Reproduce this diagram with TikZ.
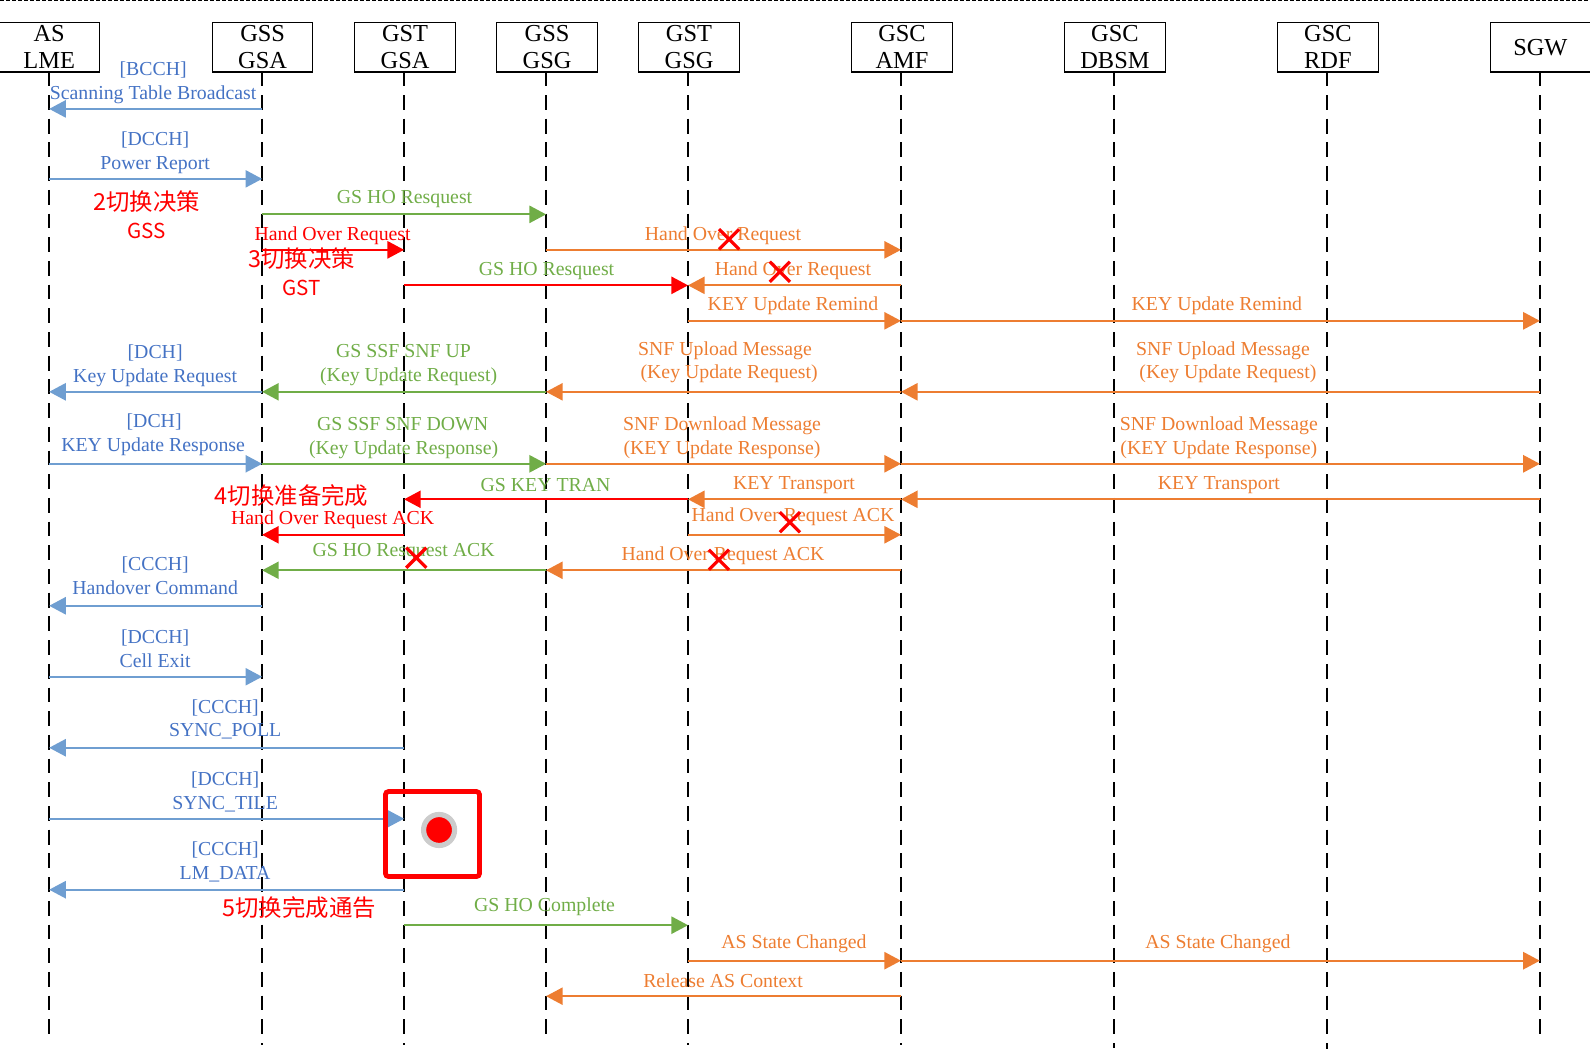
\documentclass[tikz,border=0pt]{standalone}
\usepackage{fontspec}
\setmainfont{Liberation Serif}
\newfontfamily\cjk{Noto Sans CJK SC}
\usetikzlibrary{arrows.meta,shapes.misc}
\definecolor{cblue}{HTML}{6F9ED1}
\definecolor{tblue}{HTML}{4472C4}
\definecolor{cgreen}{HTML}{70AD47}
\definecolor{corange}{HTML}{ED7D31}
\tikzset{
  box/.style={draw=black,line width=0.55pt,minimum height=24.8pt,inner sep=0pt,align=center,font=\fontsize{12.2}{13.6}\selectfont,text depth=0pt},
  life/.style={draw=black,line width=0.95pt,dash pattern=on 7.4pt off 4.45pt,dash phase=0.6pt},
  ahead/.style={-{Triangle[length=8.3pt,width=8.6pt]}},
  bl/.style={ahead,draw=cblue,line width=0.95pt},
  gr/.style={ahead,draw=cgreen,line width=0.95pt},
  og/.style={ahead,draw=corange,line width=0.95pt},
  rd/.style={ahead,draw=red,line width=0.95pt},
  lab/.style={inner sep=0pt,yshift=-1pt,font=\fontsize{9.9}{11}\selectfont,text height=6.6pt,text depth=2pt},
  tb/.style={lab,text=tblue},
  tg/.style={lab,text=cgreen},
  to/.style={lab,text=corange},
  tr/.style={lab,text=red},
  cn/.style={inner sep=0pt,text=red,font=\cjk\fontsize{11.7}{13}\selectfont},
  xmark/.style={draw=red,cross out,line width=1.6pt,minimum size=8.5pt,inner sep=0pt},
}
\newcommand\msg[4]{\draw[#4,yshift=-0.2pt] (e#1 |- 0,#3) -- (e#2 |- 0,#3);}
\begin{document}
\begin{tikzpicture}[x=0.50701pt,y=-0.50701pt]
\useasboundingbox (0,0) rectangle (1568,1047.4);
\draw[black,line width=0.5pt,dash pattern=on 2pt off 1pt] (0,0.6) -- (1568,0.6);
% lifeline ends
\coordinate (e1) at (48.5,1021);
\coordinate (e2) at (258.5,1031);
\coordinate (e3) at (398.5,1031);
\coordinate (e4) at (538.5,1021);
\coordinate (e5) at (678.5,1031);
\coordinate (e6) at (888.5,1031);
\coordinate (e7) at (1098.5,1033);
\coordinate (e8) at (1308.5,1034);
\coordinate (e9) at (1518.5,1021);
% heads
\node[box,minimum width=49.9pt] (b1) at (48.5,46.5) {AS\\LME};
\node[box,minimum width=49.7pt] (b2) at (259,46.5) {GSS\\GSA};
\node[box,minimum width=50.2pt] (b3) at (399.5,46.5) {GST\\GSA};
\node[box,minimum width=50.2pt] (b4) at (539.5,46.5) {GSS\\GSG};
\node[box,minimum width=50.2pt] (b5) at (679.5,46.5) {GST\\GSG};
\node[box,minimum width=50.2pt] (b6) at (889.5,46.5) {GSC\\AMF};
\node[box,minimum width=50.2pt] (b7) at (1099.5,46.5) {GSC\\DBSM};
\node[box,minimum width=50.2pt] (b8) at (1309.5,46.5) {GSC\\RDF};
\node[box,minimum width=52pt] (b9) at (1521,46.5) {\hspace*{-2pt}SGW};
\foreach \i in {1,...,9}{\draw[life] (b\i.south -| e\i) -- (e\i);}
% connectors
\msg{2}{1}{107}{bl}
\msg{1}{2}{176}{bl}
\msg{2}{4}{211}{gr}
\msg{4}{6}{246}{og}
\msg{2}{3}{246}{rd}
\msg{3}{5}{281}{rd}
\msg{6}{5}{281}{og}
\msg{5}{6}{316}{og}
\msg{6}{9}{316}{og}
\msg{9}{6}{386}{og}
\msg{6}{4}{386}{og}
\msg{4}{2}{386}{gr}
\msg{2}{1}{386}{bl}
\msg{1}{2}{457}{bl}
\msg{2}{4}{457}{gr}
\msg{4}{6}{457}{og}
\msg{6}{9}{457}{og}
\msg{5}{3}{492}{rd}
\msg{6}{5}{492}{og}
\msg{9}{6}{492}{og}
\msg{3}{2}{527}{rd}
\msg{5}{6}{527}{og}
\msg{4}{2}{562}{gr}
\msg{6}{4}{562}{og}
\msg{2}{1}{597}{bl}
\msg{1}{2}{667}{bl}
\msg{3}{1}{737}{bl}
\msg{1}{3}{807}{bl}
\msg{3}{1}{877}{bl}
\msg{3}{5}{912}{gr}
\msg{5}{6}{947}{og}
\msg{6}{9}{947}{og}
\msg{6}{4}{982}{og}
% labels
\node[tb] (l1) at (151,68) {[BCCH]};
\node[tb] (l2) at (151,92) {Scanning Table Broadcast};
\node[tb] (l3) at (153,137) {[DCCH]};
\node[tb] (l4) at (153,161) {Power Report};
\node[cn] (l5) at (144.5,199) {2切换决策};
\node[cn] (l6) at (144.5,228) {\fontsize{10.3}{12}\selectfont GSS};
\node[tg] (l7) at (399,194) {GS HO Resquest};
\node[tr] (l8) at (328,231) {Hand Over Request};
\node[to] (l9) at (713,231) {Hand Over Request};
\node[cn] (l10) at (297.5,255) {3切换决策};
\node[cn] (l11) at (297.5,284) {\fontsize{10.3}{12}\selectfont GST};
\node[tg] (l12) at (539,265) {GS HO Resquest};
\node[to] (l13) at (782,265) {Hand Over Request};
\node[to] (l14) at (782,300) {KEY Update Remind};
\node[to] (l15) at (1200,300) {KEY Update Remind};
\node[tb] (l16) at (153,347) {[DCH]};
\node[tb] (l17) at (153,371) {Key Update Request};
\node[tg] (l18) at (398,346) {GS SSF SNF UP};
\node[tg] (l19) at (403,370) {(Key Update Request)};
\node[to] (l20) at (715,344) {SNF Upload Message};
\node[to] (l21) at (719,367) {(Key Update Request)};
\node[to] (l22) at (1206,344) {SNF Upload Message};
\node[to] (l23) at (1211,367) {(Key Update Request)};
\node[tb] (l24) at (152,415) {[DCH]};
\node[tb] (l25) at (151,439) {KEY Update Response};
\node[tg] (l26) at (397,418) {GS SSF SNF DOWN};
\node[tg] (l27) at (398,442) {(Key Update Response)};
\node[to] (l28) at (712,418) {SNF Download Message};
\node[to] (l29) at (712,442) {(KEY Update Response)};
\node[to] (l30) at (1202,418) {SNF Download Message};
\node[to] (l31) at (1202,442) {(KEY Update Response)};
\node[tg] (l32) at (538,478) {GS KEY TRAN};
\node[to] (l33) at (783,476) {KEY Transport};
\node[to] (l34) at (1202,476) {KEY Transport};
\node[cn] (l35) at (287.5,489) {4切换准备完成};
\node[tr] (l36) at (328,511) {Hand Over Request ACK};
\node[to] (l37) at (782,508) {Hand Over Request ACK};
\node[tg] (l38) at (398,542) {GS HO Resquest ACK};
\node[to] (l39) at (713,546) {Hand Over Request ACK};
\node[tb] (l40) at (153,556) {[CCCH]};
\node[tb] (l41) at (153,580) {Handover Command};
\node[tb] (l42) at (153,628) {[DCCH]};
\node[tb] (l43) at (153,652) {Cell Exit};
\node[tb] (l44) at (222,697) {[CCCH]};
\node[tb] (l45) at (222,720) {SYNC\_POLL};
\node[tb] (l46) at (222,768) {[DCCH]};
\node[tb] (l47) at (222,792) {SYNC\_TILE};
\node[tb] (l48) at (222,837) {[CCCH]};
\node[tb] (l49) at (222,861) {LM\_DATA};
\node[cn] (l50) at (295,895) {5切换完成通告};
\node[tg] (l51) at (537,892) {GS HO Complete};
\node[to] (l52) at (783,929) {AS State Changed};
\node[to] (l53) at (1201,929) {AS State Changed};
\node[to] (l54) at (713,967) {Release AS Context};
% crosses
\node[xmark] (x1) at (719,236) {};
\node[xmark] (x2) at (769,268) {};
\node[xmark] (x3) at (779,515) {};
\node[xmark] (x4) at (410.5,550) {};
\node[xmark] (x5) at (709,552) {};
% marker
\node[draw=red,line width=2.4pt,rounded corners=1.5pt,minimum width=47pt,minimum height=42.5pt,inner sep=0pt] (frame) at (426.5,822.5) {};
\node[circle,fill=red,draw=black!20,line width=2.6pt,minimum size=15.5pt,inner sep=0pt] (dot) at (433,818.5) {};
\end{tikzpicture}
\end{document}
